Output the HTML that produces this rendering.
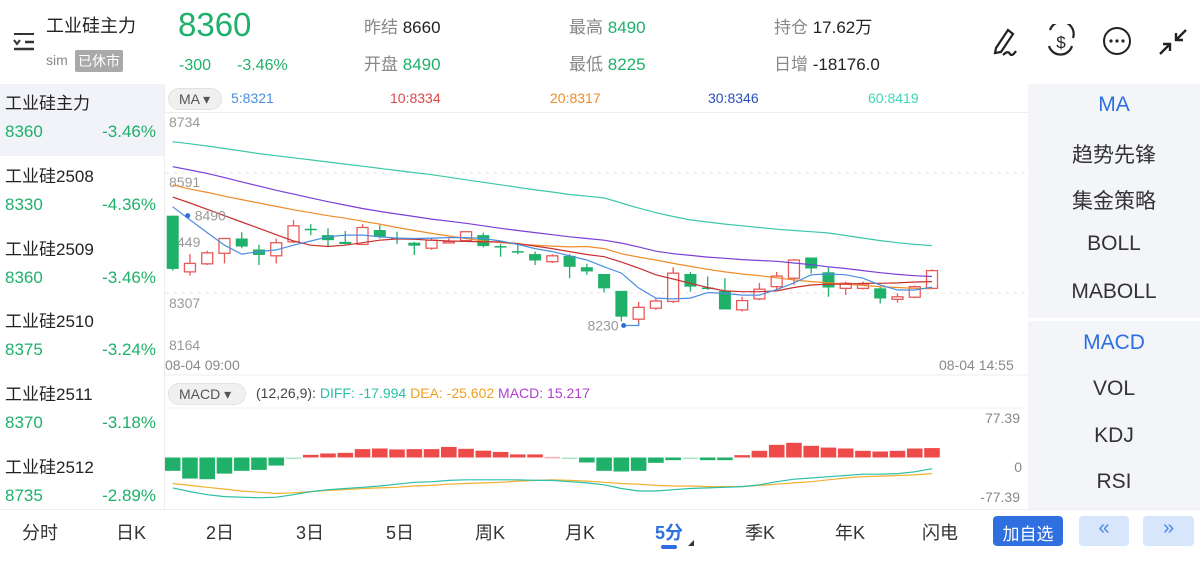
<!DOCTYPE html>
<html><head><meta charset="utf-8">
<style>
*{margin:0;padding:0;box-sizing:border-box}
body{width:1200px;height:567px;overflow:hidden;background:#fff;font-family:"Liberation Sans","Noto Sans CJK SC",sans-serif;color:#222;position:relative}
.a{position:absolute;white-space:nowrap}
.g{color:#1fb06a}.r{color:#e84848}.gr{color:#888}
.lst{font-size:17px}
.rp{position:absolute;left:1028px;width:172px;text-align:center;font-size:21px;color:#333}
.tab{position:absolute;top:519px;font-size:18px;color:#333;transform:translateX(-50%)}
</style></head><body>
<svg class="a" style="left:0;top:0" width="1200" height="567" id="cv"></svg>

<!-- header -->
<div class="a" style="left:12px;top:30px;width:24px;height:22px">
<svg width="24" height="22"><line x1="2" y1="4" x2="22" y2="4" stroke="#333" stroke-width="2"/><polyline points="2,10 5,14 8,10" fill="none" stroke="#333" stroke-width="2"/><line x1="13" y1="12" x2="22" y2="12" stroke="#333" stroke-width="2.5"/><line x1="2" y1="19" x2="22" y2="19" stroke="#333" stroke-width="2.5"/></svg></div>
<div class="a" style="left:46px;top:12px;font-size:18px">工业硅主力</div>
<div class="a gr" style="left:46px;top:52px;font-size:14px">sim</div>
<div class="a" style="left:75px;top:50px;font-size:14px;background:#a9a9a9;color:#fff;padding:1px 3px;border-radius:2px">已休市</div>
<div class="a g" style="left:178px;top:6px;font-size:33px">8360</div>
<div class="a g" style="left:179px;top:57px;font-size:16px">-300</div>
<div class="a g" style="left:237px;top:57px;font-size:16px">-3.46%</div>
<div class="a" style="left:364px;top:13px;font-size:17px"><span class="gr">昨结</span> 8660</div>
<div class="a" style="left:364px;top:50px;font-size:17px"><span class="gr">开盘</span> <span class="g">8490</span></div>
<div class="a" style="left:569px;top:13px;font-size:17px"><span class="gr">最高</span> <span class="g">8490</span></div>
<div class="a" style="left:569px;top:50px;font-size:17px"><span class="gr">最低</span> <span class="g">8225</span></div>
<div class="a" style="left:774px;top:13px;font-size:17px"><span class="gr">持仓</span> 17.62万</div>
<div class="a" style="left:774px;top:50px;font-size:17px"><span class="gr">日增</span> -18176.0</div>
<svg class="a" style="left:990px;top:24px" width="200" height="34">
<g fill="none" stroke="#222" stroke-width="2.2"><path d="M6 24 L18 6 L23 10 L11 28 L5 29 Z"/><path d="M13 31 Q18 26 20 30 Q22 33 26 27"/></g>
<g fill="none" stroke="#222" stroke-width="2.2"><path d="M60 6 A12 12 0 0 1 83 14"/><path d="M82 22 A12 12 0 0 1 59 22"/><text x="71" y="24" font-size="17" fill="#222" stroke="none" text-anchor="middle" font-family="Liberation Sans">$</text></g>
<g><circle cx="127" cy="17" r="13" fill="none" stroke="#222" stroke-width="2"/><circle cx="121" cy="17" r="1.6" fill="#222"/><circle cx="127" cy="17" r="1.6" fill="#222"/><circle cx="133" cy="17" r="1.6" fill="#222"/></g>
<g stroke="#222" stroke-width="2.4"><line x1="196" y1="6" x2="187" y2="15"/><polyline points="186,9 186,16 193,16" fill="none"/><line x1="170" y1="30" x2="179" y2="21"/><polyline points="180,27 180,20 173,20" fill="none"/></g>
</svg>

<!-- left list -->
<div class="a" style="left:0;top:84px;width:164px;height:72px;background:#f1f3f8"></div>
<div id="lst"></div>
<div class="a" style="left:164px;top:84px;width:1px;height:425px;background:#eee"></div>

<!-- right panel -->
<div class="a" style="left:1028px;top:84px;width:172px;height:425px;background:#f3f5f9"></div>
<div class="a" style="left:1028px;top:318px;width:172px;height:3px;background:#fff"></div>
<div class="rp" style="top:93px;color:#2d6fe0">MA</div>
<div class="rp" style="top:139px">趋势先锋</div>
<div class="rp" style="top:185px">集金策略</div>
<div class="rp" style="top:232px">BOLL</div>
<div class="rp" style="top:280px">MABOLL</div>
<div class="rp" style="top:331px;color:#2d6fe0">MACD</div>
<div class="rp" style="top:377px">VOL</div>
<div class="rp" style="top:424px">KDJ</div>
<div class="rp" style="top:470px">RSI</div>

<!-- chart legends -->
<div class="a" style="left:168px;top:88px;width:54px;height:22px;border-radius:11px;background:#f0f0f0;border:1px solid #e2e2e2;font-size:14px;color:#555;padding:2px 0 0 10px">MA ▾</div>
<div class="a" style="left:231px;top:90px;font-size:14px;color:#4a8ee0">5:8321</div>
<div class="a" style="left:390px;top:90px;font-size:14px;color:#e04848">10:8334</div>
<div class="a" style="left:550px;top:90px;font-size:14px;color:#ef8c2a">20:8317</div>
<div class="a" style="left:708px;top:90px;font-size:14px;color:#2a4fc0">30:8346</div>
<div class="a" style="left:868px;top:90px;font-size:14px;color:#3fd8b8">60:8419</div>
<div class="a gr" style="left:165px;top:357px;font-size:14px">08-04 09:00</div>
<div class="a gr" style="left:939px;top:357px;font-size:14px">08-04 14:55</div>
<div class="a" style="left:168px;top:383px;width:78px;height:22px;border-radius:11px;background:#f0f0f0;border:1px solid #e2e2e2;font-size:14px;color:#555;padding:2px 0 0 10px">MACD ▾</div>
<div class="a" style="left:256px;top:385px;font-size:14px;color:#444">(12,26,9): <span style="color:#2bbfa8">DIFF: -17.994</span> <span style="color:#f0a020">DEA: -25.602</span> <span style="color:#b040d0">MACD: 15.217</span></div>
<div class="a gr" style="left:960px;top:410px;width:60px;text-align:right;font-size:14px">77.39</div>
<div class="a gr" style="left:960px;top:459px;width:62px;text-align:right;font-size:14px">0</div>
<div class="a gr" style="left:960px;top:489px;width:60px;text-align:right;font-size:14px">-77.39</div>

<!-- bottom tabs -->
<div class="a" style="left:0;top:509px;width:1200px;height:1px;background:#eee"></div>
<div class="tab" style="left:40px">分时</div>
<div class="tab" style="left:131px">日K</div>
<div class="tab" style="left:220px">2日</div>
<div class="tab" style="left:310px">3日</div>
<div class="tab" style="left:400px">5日</div>
<div class="tab" style="left:490px">周K</div>
<div class="tab" style="left:580px">月K</div>
<div class="tab" style="left:669px;color:#2d6fe0;font-weight:bold">5分</div>
<div class="a" style="left:661px;top:545px;width:16px;height:4px;border-radius:2px;background:#2d6fe0"></div>
<div class="a" style="left:688px;top:540px;width:0;height:0;border-left:6px solid transparent;border-bottom:6px solid #333"></div>
<div class="tab" style="left:760px">季K</div>
<div class="tab" style="left:850px">年K</div>
<div class="tab" style="left:940px">闪电</div>
<div class="a" style="left:993px;top:516px;width:70px;height:30px;border-radius:4px;background:#2f6fe0;color:#fff;font-size:17px;text-align:center;padding-top:4px">加自选</div>
<div class="a" style="left:1079px;top:516px;width:50px;height:30px;border-radius:4px;background:#d8e6fb;color:#4a86e8;font-size:20px;text-align:center;padding-top:1px">«</div>
<div class="a" style="left:1143px;top:516px;width:51px;height:30px;border-radius:4px;background:#d8e6fb;color:#4a86e8;font-size:20px;text-align:center;padding-top:1px">»</div>

<script>
const listNames=["工业硅主力","工业硅2508","工业硅2509","工业硅2510","工业硅2511","工业硅2512"];
const listPrices=["8360","8330","8360","8375","8370","8735"];
const listPcts=["-3.46%","-4.36%","-3.46%","-3.24%","-3.18%","-2.89%"];
const lst=document.getElementById('lst');
listNames.forEach((n,i)=>{
  const t=84+i*72.8;
  const row=document.createElement('div');
  row.className='a';row.style.cssText=`left:0;top:${t}px;width:164px;height:72px`;
  
  
  row.innerHTML=`<div class="a lst" style="left:5px;top:5px">${n}</div><div class="a lst g" style="left:5px;top:38px">${listPrices[i]}</div><div class="a lst g" style="right:8px;top:38px">${listPcts[i]}</div>`;
  lst.appendChild(row);
});

const opens=[8490,8357,8376,8401,8436,8410,8395,8428,8459,8444,8428,8422,8456,8437,8426,8413,8427,8431,8444,8418,8406,8399,8381,8395,8368,8352,8312,8245,8271,8287,8352,8320,8312,8267,8293,8322,8342,8391,8356,8318,8318,8318,8292,8297,8318];
const highs=[8490,8399,8407,8436,8451,8421,8436,8480,8470,8460,8454,8470,8468,8452,8428,8436,8436,8452,8450,8423,8426,8405,8399,8399,8376,8352,8312,8286,8294,8368,8357,8346,8342,8298,8331,8357,8387,8391,8369,8334,8334,8322,8306,8325,8363];
const lows=[8360,8348,8373,8377,8413,8373,8377,8425,8444,8418,8421,8421,8436,8423,8397,8409,8424,8429,8415,8393,8399,8373,8378,8342,8350,8308,8240,8230,8267,8283,8310,8314,8268,8263,8290,8314,8326,8353,8298,8302,8315,8282,8284,8295,8318];
const closes=[8364,8377,8402,8436,8417,8397,8426,8466,8457,8432,8423,8462,8440,8435,8419,8432,8429,8452,8418,8416,8404,8384,8395,8369,8358,8318,8251,8273,8288,8354,8322,8317,8268,8289,8316,8347,8385,8365,8320,8330,8328,8294,8298,8322,8360];
const ma5=[8511,8480,8450,8420,8399,8405,8409,8420,8430,8440,8444,8444,8440,8437,8436,8437,8438,8438,8436,8430,8422,8412,8405,8395,8385,8369,8354,8319,8295,8293,8295,8308,8306,8302,8302,8315,8331,8350,8352,8350,8342,8326,8314,8314,8321];
const ma10=[8534,8520,8505,8490,8475,8460,8445,8430,8420,8417,8420,8426,8432,8435,8434,8432,8430,8429,8428,8428,8424,8418,8412,8405,8398,8393,8380,8366,8350,8340,8330,8320,8312,8310,8310,8312,8320,8326,8328,8328,8330,8330,8331,8333,8334];
const ma20=[8563,8553,8545,8536,8528,8520,8512,8504,8497,8490,8484,8477,8470,8462,8455,8448,8442,8436,8430,8426,8423,8420,8418,8416,8417,8412,8400,8392,8385,8377,8370,8363,8357,8352,8348,8343,8338,8334,8331,8328,8325,8322,8320,8318,8317];
const ma30=[8606,8598,8590,8580,8570,8560,8550,8541,8532,8523,8515,8507,8500,8494,8488,8482,8477,8472,8466,8460,8455,8450,8445,8440,8436,8432,8425,8416,8406,8400,8396,8392,8389,8386,8384,8382,8378,8374,8369,8365,8360,8355,8351,8348,8346];
const ma60=[8665,8660,8655,8649,8643,8637,8632,8627,8622,8617,8612,8607,8602,8597,8592,8587,8581,8575,8569,8563,8557,8551,8546,8540,8536,8532,8520,8508,8497,8488,8480,8475,8470,8466,8462,8458,8455,8452,8449,8443,8437,8431,8426,8422,8419];
const priceTicks=["8734","8591","8449","8307","8164"];
const macdHist=[-21.5,-34,-35,-26,-21.5,-20,-13,-1.6,4.3,6.5,7.5,13.5,14.5,13,13.5,13.5,17,14,11,9,5,5,1,-1.6,-8,-21.5,-22.6,-21.5,-8.6,-4.3,-1.6,-4.3,-4.3,3.8,10.8,20.4,23.7,18.8,16,14.5,10.8,9.7,10.8,14.5,15.2];
const diff=[-49,-55,-60,-63,-64,-65,-64,-60,-55,-52,-50,-48,-46,-43,-40,-39,-37,-36,-36,-36,-36,-37,-37,-39,-41,-44,-50,-54,-54,-52,-50,-49,-48,-47,-44,-39,-35,-33,-31,-29,-27,-27,-26,-23,-18];
const dea=[-42,-45,-48,-51,-54,-56,-58,-57,-55,-53,-52,-50,-49,-48,-46,-45,-43,-42,-41,-40,-38,-37,-36,-37,-38,-40,-42,-43,-45,-46,-46,-47,-47,-47,-45,-43,-41,-39,-36,-33,-31,-30,-29,-28,-26];

const NS='http://www.w3.org/2000/svg';
const cv=document.getElementById('cv');
function el(tag,attrs,parent){const e=document.createElementNS(NS,tag);for(const k in attrs)e.setAttribute(k,attrs[k]);(parent||cv).appendChild(e);return e;}
const N=closes.length;
const xOf=i=>172.7+i*(932-172.7)/(N-1);
const yP=p=>173+(8591-p)*0.4225;
const yM=v=>457.5-v*0.62;

el('line',{x1:165,y1:112.5,x2:1028,y2:112.5,stroke:'#eee'});
[8591,8307].forEach(p=>el('line',{x1:165,y1:yP(p),x2:1028,y2:yP(p),stroke:'#e4e4e4','stroke-dasharray':'4 4'}));
el('line',{x1:165,y1:375,x2:1028,y2:375,stroke:'#eee'});
el('line',{x1:165,y1:408,x2:1028,y2:408,stroke:'#f2f2f2'});
const tickVals=priceTicks.map(Number);
tickVals.forEach((v,i)=>{
  const yy=i===0?127:i===4?350:yP(v)+(i===1?14:i===3?15:14);
  const t=el('text',{x:i===2?177:169,y:yy,'font-size':14,fill:'#999','font-family':'Liberation Sans'});
  t.textContent=i===2?priceTicks[i].slice(1):priceTicks[i];
  
  
});
const GREEN='#1fb06a',RED='#e85a5a';
for(let i=0;i<N;i++){
  const x=xOf(i),up=closes[i]>=opens[i],c=up?RED:GREEN;
  const g=el('g',{});
  
  
  el('line',{x1:x,y1:yP(highs[i]),x2:x,y2:yP(lows[i]),stroke:c,'stroke-width':1.3},g);
  const top=yP(Math.max(opens[i],closes[i])),bot=yP(Math.min(opens[i],closes[i]));
  const h=Math.max(bot-top,1.5);
  if(up) el('rect',{x:x-5.5,y:top,width:11,height:h,fill:'#fff',stroke:c,'stroke-width':1.3},g);
  else el('rect',{x:x-6,y:top,width:12,height:h,fill:c},g);
}
function line(arr,yf,color,name,w){
  const p=el('polyline',{points:arr.map((v,i)=>xOf(i).toFixed(1)+','+yf(v).toFixed(1)).join(' '),fill:'none',stroke:color,'stroke-width':w||1.2});
  
  
}
line(ma60,yP,'#3cc8aa','ma60-line');
line(ma30,yP,'#7b3fd6','ma30-line');
line(ma20,yP,'#ef8c2a','ma20-line');
line(ma10,yP,'#c8302e','ma10-line');
line(ma5,yP,'#4a8ee0','ma5-line');
let hi=0,lo=0;highs.forEach((v,i)=>{if(v>highs[hi])hi=i});lows.forEach((v,i)=>{if(v<lows[lo])lo=i});
el('circle',{cx:xOf(hi)+15,cy:yP(highs[hi]),r:2.5,fill:'#2d6fe0'});
const th=el('text',{x:xOf(hi)+22,y:yP(highs[hi])+5,'font-size':14,fill:'#999','font-family':'Liberation Sans'});th.textContent=String(highs[hi]);


el('polyline',{points:`${xOf(lo)-15},${yP(lows[lo])} ${xOf(lo)},${yP(lows[lo])} ${xOf(lo)},${yP(lows[lo])-3}`,fill:'none',stroke:'#4a8ee0','stroke-width':1.2});
el('circle',{cx:xOf(lo)-15,cy:yP(lows[lo]),r:2.5,fill:'#2d6fe0'});
const tl=el('text',{x:xOf(lo)-20,y:yP(lows[lo])+5,'font-size':14,fill:'#999','text-anchor':'end','font-family':'Liberation Sans'});tl.textContent=String(lows[lo]);


macdHist.forEach((v,i)=>{
  const x=xOf(i),y0=yM(0),y1=yM(v);
  const small=Math.abs(v)<2;
  const r=el('rect',{x:x-7.8,y:Math.min(y0,y1),width:15.6,height:Math.max(Math.abs(y1-y0),1.5),fill:v>=0?(small?'#f6b0b0':'#ef4a4a'):(small?'#a8e8c8':'#1fb06a')});
  
  
});
line(dea,yM,'#f0b030','dea-line',1.2);
line(diff,yM,'#2bbfa8','diff-line',1.2);
</script>
</body></html>
